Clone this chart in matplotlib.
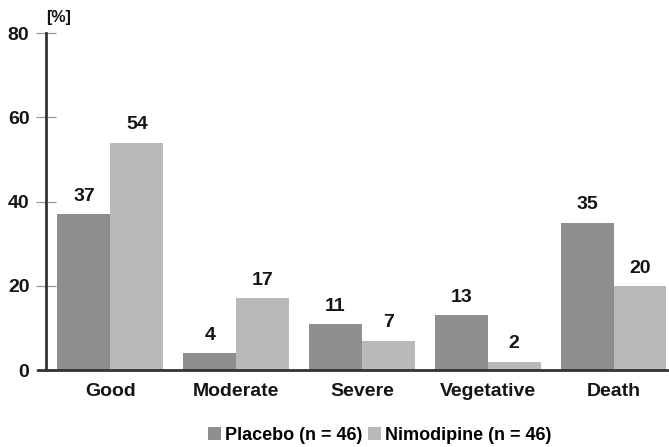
import numpy as np
import matplotlib.pyplot as plt

plt.rcParams['font.family'] = ['Liberation Sans', 'DejaVu Sans']
plt.rcParams['font.weight'] = 'bold'

categories = ['Good', 'Moderate', 'Severe', 'Vegetative', 'Death']
placebo = [37, 4, 11, 13, 35]
nimodipine = [54, 17, 7, 2, 20]
yticks = [0, 20, 40, 60, 80]

c_placebo = '#8e8e8e'
c_nimo = '#b9b9b9'
ink = '#151515'

fig = plt.figure(figsize=(6.69, 4.47), dpi=100)
ax = fig.add_axes([0.069, 0.172, 0.931, 0.754])

x = np.arange(len(categories))
w = 0.42
b1 = ax.bar(x - w / 2, placebo, w, color=c_placebo, label='Placebo (n = 46)')
b2 = ax.bar(x + w / 2, nimodipine, w, color=c_nimo, label='Nimodipine (n = 46)')

for bars, vals in [(b1, placebo), (b2, nimodipine)]:
    for r, v in zip(bars, vals):
        ax.text(r.get_x() + r.get_width() / 2, v + 2.2, str(v),
                ha='center', va='bottom', fontsize=14, fontweight='bold',
                color=ink)

ax.set_xlim(-0.51, 4.44)
ax.set_ylim(0, 80)
ax.set_yticks(yticks)
ax.set_xticks(x)
ax.set_xticklabels(categories, fontsize=14, fontweight='bold', color=ink)
ax.tick_params(axis='x', length=0, pad=9)
ax.tick_params(axis='y', direction='inout', length=14, width=0.9,
               color='#999999', labelsize=14, labelcolor=ink, pad=5)
for t in ax.get_yticklabels():
    t.set_fontweight('bold')

for s in ['top', 'right']:
    ax.spines[s].set_visible(False)
ax.spines['left'].set_linewidth(2)
ax.spines['left'].set_color('#333333')
ax.spines['bottom'].set_linewidth(2)
ax.spines['bottom'].set_color('#333333')
ax.spines['bottom'].set_bounds(-0.575, 4.44)
ax.spines['bottom'].set_clip_on(False)

ax.text(0.0, 1.025, '[%]', transform=ax.transAxes, fontsize=11.5,
        fontweight='bold', color=ink, ha='left', va='bottom')

fig.legend(loc='lower center', bbox_to_anchor=(0.567, -0.03), ncol=2,
           frameon=False, fontsize=13, handlelength=0.75, handleheight=0.75,
           handletextpad=0.2, columnspacing=0.3)

fig.savefig('out.png', dpi=100)
